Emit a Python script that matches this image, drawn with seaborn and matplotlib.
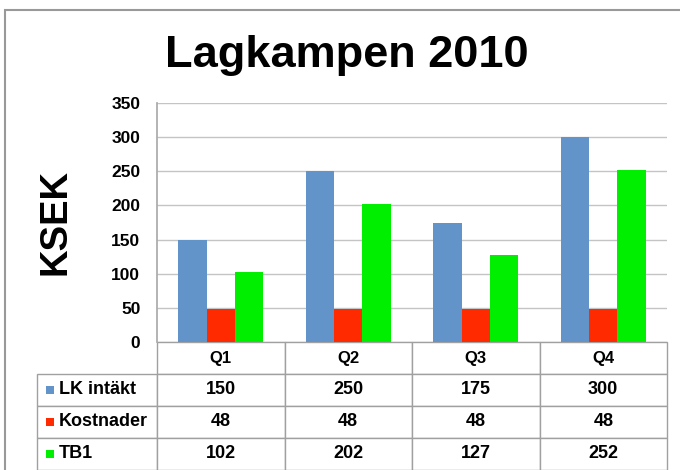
import matplotlib
matplotlib.use('Agg')
import matplotlib.pyplot as plt
import seaborn as sns
import pandas as pd
from matplotlib.patches import Rectangle

quarters = ['Q1', 'Q2', 'Q3', 'Q4']
series = ['LK intäkt', 'Kostnader', 'TB1']
lk_intakt = [150, 250, 175, 300]
kostnader = [48, 48, 48, 48]
tb1 = [102, 202, 127, 252]
colors = ['#6394C9', '#FF2A00', '#00EE00']

sns.set_theme(style='white')
plt.rcParams['font.family'] = ['Liberation Sans', 'DejaVu Sans']
plt.rcParams['font.weight'] = 'bold'
plt.rcParams['text.color'] = 'black'
plt.rcParams['ytick.color'] = 'black'

values = [lk_intakt, kostnader, tb1]
df = pd.DataFrame({
    'Kvartal': quarters * len(series),
    'Serie': [s for s in series for _ in quarters],
    'KSEK': lk_intakt + kostnader + tb1,
})

W, H = 680, 470
fig = plt.figure(figsize=(6.8, 4.7), dpi=100)
ax_l, ax_r, ax_t, ax_b = 157, 667, 103, 342
ax = fig.add_axes([ax_l / W, 1 - ax_b / H, (ax_r - ax_l) / W, (ax_b - ax_t) / H])
aw, ah = ax_r - ax_l, ax_b - ax_t

sns.barplot(data=df, x='Kvartal', y='KSEK', hue='Serie', palette=colors,
            width=0.67, ax=ax, legend=False, linewidth=0, saturation=1)
ax.set_ylim(0, 350)
ax.set_yticks(range(0, 351, 50))
ax.set_xlim(-0.5, 3.5)
ax.yaxis.grid(True, color='#c4c4c4', lw=1)
ax.set_axisbelow(True)
ax.set_xticks([])
ax.set_xlabel('')
ax.set_ylabel('')
for s in ['top', 'right', 'bottom']:
    ax.spines[s].set_visible(False)
ax.spines['left'].set_color('#aaaaaa')
ax.tick_params(axis='y', length=0, labelsize=12.5, pad=12, labelcolor='black')
for t in ax.get_yticklabels():
    t.set_fontweight('bold')

# Data table
cell_text = [[s] + [str(v) for v in vals] for s, vals in zip(series, values)]
lab_w = 120
tot_w = lab_w + aw
col_widths = [lab_w / tot_w] + [aw / 4 / tot_w] * 4
tbl_h = H - ax_b
tbl = ax.table(cellText=cell_text, colLabels=[''] + quarters,
               colWidths=col_widths, cellLoc='center',
               bbox=[-lab_w / aw, -tbl_h / ah, tot_w / aw, tbl_h / ah])
tbl.auto_set_font_size(False)
tbl.set_fontsize(13)
for (r, c), cell in tbl.get_celld().items():
    cell.set_edgecolor('#a0a0a0')
    cell.set_linewidth(1)
    cell.get_text().set_fontweight('bold')
    cell.get_text().set_color('black')
    if r == 0:
        cell.get_text().set_fontsize(12)
    if r == 0 and c == 0:
        cell.set_linewidth(0)
        cell.set_edgecolor('none')
    if c == 0 and r > 0:
        cell.get_text().set_ha('left')
        cell._loc = 'left'
        cell.PAD = 0.18

row_h = tbl_h / 4
for i, col in enumerate(colors):
    yc = ax_b + row_h * (i + 1.5)
    ax.add_patch(Rectangle(((46 - ax_l) / aw, (ax_b - yc - 4) / ah), 8 / aw, 8 / ah,
                           transform=ax.transAxes, clip_on=False,
                           facecolor=col, edgecolor='none', zorder=5))

fig.text(347 / W, 1 - 56 / H, 'Lagkampen 2010', fontsize=32.5, fontweight='bold',
         ha='center', va='center', color='black')
fig.text(56 / W, 1 - 222 / H, 'KSEK', fontsize=27.5, fontweight='bold',
         rotation=90, ha='center', va='center', color='black')

fig.add_artist(Rectangle((5 / W, -0.02), 1.0, 1 - 10 / H + 0.02, transform=fig.transFigure,
                         fill=False, edgecolor='#999999', lw=1.5))

fig.savefig('out.png', dpi=100)
